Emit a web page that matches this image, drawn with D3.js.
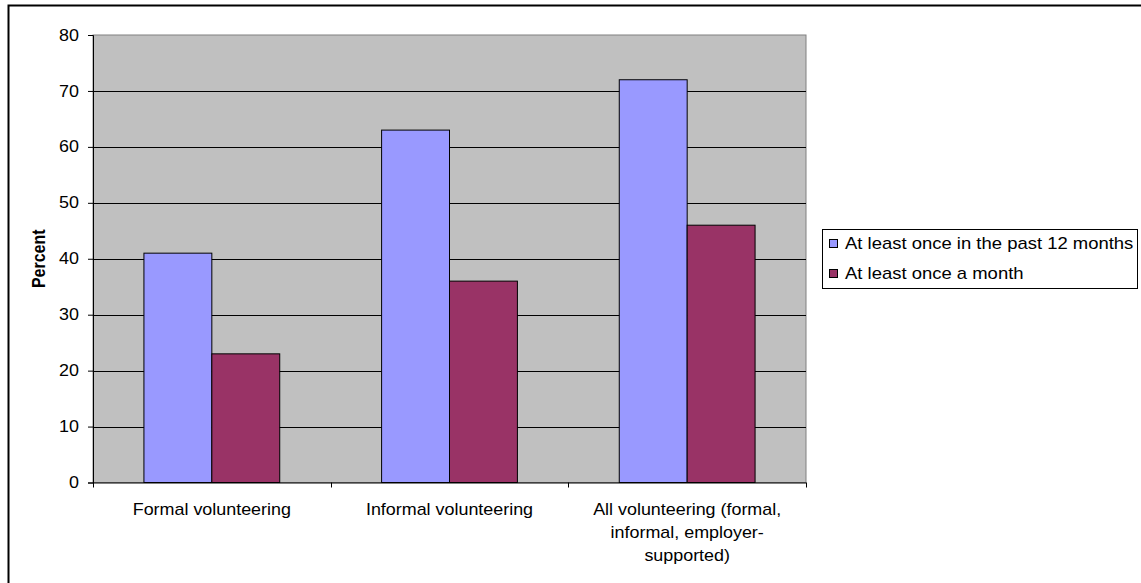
<!DOCTYPE html>
<html>
<head>
<meta charset="utf-8">
<script src="https://cdn.jsdelivr.net/npm/d3@7"></script>
<style>
  html, body { margin: 0; padding: 0; background: #fff; }
  svg { display: block; }
  text { font-family: "Liberation Sans", Arial, sans-serif; fill: #000; }
</style>
</head>
<body>
<script>
// Volunteering frequency by type (percent)
const categories = [
  ["Formal volunteering"],
  ["Informal volunteering"],
  ["All volunteering (formal,", "informal, employer-", "supported)"]
];
const seriesNames = ["At least once in the past 12 months", "At least once a month"];
const pastYear = [41, 63, 72];
const monthly = [23, 36, 46];
const yTicks = [0, 10, 20, 30, 40, 50, 60, 70, 80];
const colors = ["#9999FF", "#993366"];

const W = 1141, H = 583;
const plot = { left: 93, top: 35, right: 806, bottom: 482.5 };
const FS = 16, SX = 1.12, LSX = 1.155; // font size and horizontal text stretch

const svg = d3.select("body").append("svg").attr("width", W).attr("height", H);

// outer chart border (runs past the right and bottom edges)
svg.append("rect")
  .attr("x", 8.5).attr("y", 5.5).attr("width", W + 10).attr("height", H + 10)
  .attr("fill", "#fff").attr("stroke", "#000").attr("stroke-width", 2);

const x0 = d3.scaleBand().domain(d3.range(categories.length))
  .range([plot.left, plot.right]).paddingInner(0).paddingOuter(0);
const groupBar = x0.bandwidth() / 3.5; // 150% gap width
const x1 = d3.scaleBand().domain([0, 1]).range([0, groupBar * 2]);
const y = d3.scaleLinear().domain([0, 80]).range([plot.bottom, plot.top]);

// plot area
svg.append("rect")
  .attr("x", plot.left).attr("y", plot.top)
  .attr("width", plot.right - plot.left).attr("height", plot.bottom - plot.top)
  .attr("fill", "#C0C0C0").attr("stroke", "#808080").attr("stroke-width", 1);

// gridlines
svg.append("g").selectAll("line")
  .data(yTicks.filter(t => t > 0 && t < 80)).join("line")
  .attr("x1", plot.left).attr("x2", plot.right)
  .attr("y1", d => Math.round(y(d)) + 0.5).attr("y2", d => Math.round(y(d)) + 0.5)
  .attr("stroke", "#000").attr("stroke-width", 1);

// bars
const series = [pastYear, monthly];
const groups = svg.append("g").selectAll("g")
  .data(d3.range(categories.length)).join("g")
  .attr("transform", i => `translate(${x0(i) + x0.bandwidth() / 2 - groupBar},0)`);
groups.selectAll("rect")
  .data(i => series.map((s, k) => ({ k, v: s[i] }))).join("rect")
  .attr("x", d => x1(d.k))
  .attr("width", x1.bandwidth())
  .attr("y", d => y(d.v))
  .attr("height", d => y(0) - y(d.v))
  .attr("fill", d => colors[d.k])
  .attr("stroke", "#000").attr("stroke-width", 1);

// y axis
const yAxis = svg.append("g").attr("transform", `translate(${plot.left},0)`)
  .call(d3.axisLeft(y).tickValues(yTicks).tickSize(5).tickPadding(9));
yAxis.select(".domain").attr("stroke", "#000");
yAxis.selectAll(".tick line").attr("stroke", "#000");
yAxis.selectAll(".tick text").attr("font-size", FS)
  .attr("font-family", "Liberation Sans, Arial, sans-serif")
  .each(function () {
    const t = d3.select(this);
    const xx = +t.attr("x");
    t.attr("x", xx / SX).attr("transform", `scale(${SX},1)`);
  });

// x axis
const xAxis = svg.append("g").attr("transform", `translate(0,${plot.bottom})`);
xAxis.append("line").attr("x1", plot.left).attr("x2", plot.right)
  .attr("y1", 0.5).attr("y2", 0.5).attr("stroke", "#000");
xAxis.selectAll("line.tk")
  .data(d3.range(categories.length + 1)).join("line").attr("class", "tk")
  .attr("x1", i => Math.round(plot.left + i * x0.bandwidth()) + 0.5)
  .attr("x2", i => Math.round(plot.left + i * x0.bandwidth()) + 0.5)
  .attr("y1", 0).attr("y2", 5).attr("stroke", "#000");
const labels = xAxis.selectAll("g.lab")
  .data(categories).join("g").attr("class", "lab")
  .attr("transform", (d, i) => `translate(${x0(i) + x0.bandwidth() / 2},0) scale(${SX},1)`);
labels.selectAll("text")
  .data(d => d).join("text")
  .attr("x", 0).attr("y", (d, j) => 33 + j * 23)
  .attr("text-anchor", "middle").attr("font-size", FS)
  .text(d => d);

// y title
svg.append("text")
  .attr("transform", `translate(45,${(plot.top + plot.bottom) / 2}) rotate(-90) scale(1,${SX})`)
  .attr("text-anchor", "middle").attr("font-size", FS).attr("font-weight", "bold")
  .text("Percent");

// legend
const lg = svg.append("g").attr("transform", "translate(822,229)");
lg.append("rect").attr("x", 0.5).attr("y", 0.5).attr("width", 315).attr("height", 59)
  .attr("fill", "#fff").attr("stroke", "#000");
const items = lg.selectAll("g.it").data(seriesNames).join("g").attr("class", "it")
  .attr("transform", (d, i) => `translate(0,${14 + i * 30})`);
items.append("rect").attr("x", 7.5).attr("y", -3.5).attr("width", 8).attr("height", 8)
  .attr("fill", (d, i) => colors[i]).attr("stroke", "#000");
items.append("text")
  .attr("transform", `translate(23,6) scale(${LSX},1)`)
  .attr("font-size", FS).text(d => d);
</script>
</body>
</html>
